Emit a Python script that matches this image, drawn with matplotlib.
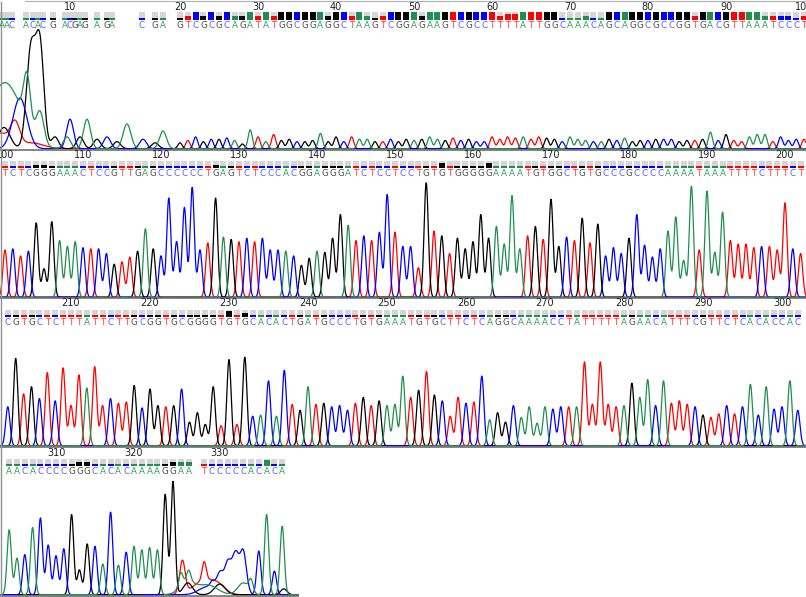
import numpy as np
import matplotlib
matplotlib.use("Agg")
import matplotlib.pyplot as plt
from matplotlib.patches import Rectangle

W, H = 806, 597

trace_col = {"A": "#1f8f4f", "C": "#0000ff", "G": "#000000", "T": "#ff0000"}
text_col = {"A": "#35a064", "C": "#5c5cff", "G": "#4a4a4a", "T": "#ff3a3a"}

# ---- row 1 : bases 1-100 (noisy start) ----
row1_seq = "AACACACGACGAGAGACGA" + "GTCGCGCAGATATGGCGGAGGCTAAGTCGGAGAAGTCGCCTTTTATTGGCAAACAGCAGGCGCCGGTGACGTTAAATCCCT"
row1_num = list(range(1, 101))
row1_early_pos = [-2.86, -2.22, -1.58, 0.26, 1.12, 1.76, 2.40, 3.68, 5.26, 5.9,
                  6.54, 7.18, 7.82, 9.32, 10.6, 11.24, 15.09, 16.79, 17.86]
row1_pos = row1_early_pos + list(range(20, 101))
row1_h = [0] * 19 + [
    .05, .07, .10, .06, .08, .08, .09, .07, .04, .16,
    .10, .06, .12, .07, .08, .06, .06, .07, .13, .06,
    .10, .06, .10, .08, .08, .06, .06, .08, .06, .08,
    .07, .08, .10, .08, .07, .09, .07, .08, .06, .06,
    .10, .08, .10, .09, .10, .08, .10, .09, .08, .06,
    .10, .08, .07, .06, .06, .08, .07, .09, .06, .07,
    .07, .08, .08, .08, .06, .07, .07, .08, .14, .07,
    .12, .07, .06, .10, .12, .12, .06, .10, .07, .08,
    .08]
row1_q = "1111111111111111111" + "1242424224242444444244242124444244444444423344444111211444444444442444444442222" + "12"
# broad signal at the start of the read: (base, position, height, width)
row1_noise = [("A", -2.44, .56, 2.05), ("A", 0.38, .43, .45), ("A", 2.05, .27, .51),
              ("A", 5.51, .10, .45), ("A", 8.08, .25, .45), ("A", 13.2, .21, .5),
              ("A", 17.82, .15, .45),
              ("G", -2.56, .18, .77), ("G", 0.9, .85, .58), ("G", 2.05, .85, .51),
              ("G", 3.97, .10, .45), ("G", 7.18, .10, .45), ("G", 9.36, .08, .45),
              ("G", 11.92, .06, .45), ("G", 16.8, .05, .45),
              ("C", -0.52, .43, .9), ("C", 5.9, .25, .45), ("C", 10.64, .10, .45),
              ("C", 15.26, .08, .45),
              ("T", -3.08, .13, 1.03), ("T", -1.15, .20, .6), ("T", 0.9, .05, 1.54)]

# ---- row 2 : bases 100-202 ----
row2_seq = "TCTCGGGAAACTCCGTTGAGCCCCCCTGAGTCTCCCACGGAGGGATCTCCTCCTGTGTGGGGGAAAATGTGGCTGTGCCCGCCCCAAAATAAATTTTCTTTCT"
row2_num = list(range(100, 203))
row2_pos = list(range(100, 203))
row2_h = [.40, .41, .35, .39, .63, .24, .64, .48, .43, .47,
          .42, .41, .41, .37, .28, .30, .34, .39, .58, .41,
          .35, .84, .47, .76, .93, .40, .46, .84, .51, .49,
          .47, .50, .47, .50, .40, .40, .39, .35, .27, .33,
          .39, .38, .50, .70, .61, .48, .52, .48, .55, .87,
          .55, .43, .43, .25, .97, .56, .52, .37, .50, .41,
          .47, .70, .50, .60, .45, .86, .41, .52, .60, .49,
          .83, .43, .51, .48, .67, .46, .62, .35, .42, .37,
          .50, .70, .44, .34, .41, .56, .68, .31, .94, .40,
          .90, .38, .72, .48, .45, .45, .42, .43, .43, .40,
          .80, .41, .37]
row2_q = "1111221111111111111111111112111111111111111111111111111131111131111111111111111111111111111111111111111"

# ---- row 3 : bases 202-302 ----
row3_seq = "CGTGCTCTTTATTCTTGCGGTGCGGGGTGTGCACACTGATGCCCTGTGAAATGTGCTTCTCAGGCAAAACCTATTTTTAGAACATTTCGTTCTCACACCAC"
row3_num = list(range(202, 303))
row3_pos = list(range(202, 303))
row3_h = [.33, .74, .44, .50, .40, .62, .38, .66, .34, .60,
          .49, .67, .34, .40, .36, .37, .51, .32, .48, .34,
          .33, .34, .48, .20, .28, .18, .50, .17, .73, .18,
          .75, .25, .26, .55, .25, .64, .35, .30, .50, .35,
          .36, .33, .34, .30, .36, .41, .34, .38, .34, .35,
          .59, .41, .47, .63, .43, .38, .25, .41, .36, .37,
          .59, .22, .28, .20, .34, .24, .33, .19, .33, .31,
          .33, .33, .33, .71, .35, .71, .35, .33, .34, .53,
          .41, .56, .34, .55, .36, .38, .35, .33, .26, .24,
          .27, .34, .27, .33, .52, .26, .50, .31, .33, .55,
          .30]
row3_q = "11111111111111111111111111113121111111111111111111111111111111111111111111111111111111111111111111111"

# ---- row 4 : bases 304-338, end of read ----
row4_seq = "AACACCCCGGGCACACAAAAGGAATCCCCCACACA"
row4_num = list(range(304, 339))
row4_pos = list(range(304, 328)) + list(range(329, 340))
row4_h = [.55, .31, .34, .57, .65, .42, .33, .39, .68, .21,
          .43, .41, .26, .70, .25, .36, .41, .38, .40, .38,
          .85, .96, .12, .10,
          .16, .03, .04, .05, .05, .05, .10, .37, .68, .20, .58]
row4_q = "11111111122111111111122211111111311"
row4_noise = [("T", 326.2, .28, .35), ("T", 328.6, .10, 1.2), ("T", 330.6, .09, 1.0),
              ("G", 326.9, .10, .6), ("G", 331.0, .09, .7), ("G", 339.2, .05, .4),
              ("A", 326.9, .10, 1.0), ("A", 329.5, .08, 1.2), ("A", 334.0, .10, .7),
              ("C", 329.2, .06, 1.0), ("C", 331.2, .14, .8), ("C", 332.4, .19, .6),
              ("C", 333.3, .23, .5), ("C", 334.1, .25, .4)]

rows = [
    dict(seq=row1_seq, num=row1_num, pos=row1_pos, h=row1_h, q=row1_q, noise=row1_noise,
         base=149.5, ref=20, ref_px=180, ppb=7.8, end_px=W),
    dict(seq=row2_seq, num=row2_num, pos=row2_pos, h=row2_h, q=row2_q, noise=[],
         base=298.0, ref=110, ref_px=83, ppb=7.8, end_px=W),
    dict(seq=row3_seq, num=row3_num, pos=row3_pos, h=row3_h, q=row3_q, noise=[],
         base=446.5, ref=210, ref_px=71, ppb=7.9, end_px=W),
    dict(seq=row4_seq, num=row4_num, pos=row4_pos, h=row4_h, q=row4_q, noise=row4_noise,
         base=595.5, ref=310, ref_px=56, ppb=7.8, end_px=298),
]

ROW_H = 148.0
TRACE_H = 118.0
SIG = 0.27

fig = plt.figure(figsize=(W / 100, H / 100), dpi=100)
fig.patch.set_facecolor("white")

for r in rows:
    ax = fig.add_axes([0, 1 - r["base"] / H, 1, ROW_H / H])
    u0 = r["ref"] - r["ref_px"] / r["ppb"]
    u1 = u0 + W / r["ppb"]
    ax.set_xlim(u0, u1)
    ax.set_ylim(0, ROW_H)
    ax.axis("off")
    px = 1.0 / r["ppb"]  # one pixel in base units

    # traces
    u_end = u0 + r["end_px"] / r["ppb"]
    uu = np.arange(u0, u_end, 0.03)
    for b in "TGCA":
        y = np.zeros_like(uu)
        for s, p, hh in zip(r["seq"], r["pos"], r["h"]):
            if s == b and hh > 0:
                y += hh * np.exp(-(uu - p) ** 2 / (2 * SIG ** 2))
        for nb, p, hh, w in r["noise"]:
            if nb == b:
                y += hh * np.exp(-(uu - p) ** 2 / (2 * w ** 2))
        ax.plot(uu, y * TRACE_H + 0.8, color=trace_col[b], lw=0.9, clip_on=False)

    # baseline and left border
    ax.plot([u0, u_end], [0, 0], color="#707070", lw=1.2, clip_on=False)
    ax.plot([u0 + 0.5 * px, u0 + 0.5 * px], [0, ROW_H], color="#909090", lw=1.0, clip_on=False)

    # quality bars and letters
    bw = 6 * px
    for i, (s, p, n) in enumerate(zip(r["seq"], r["pos"], r["num"])):
        q = int(r["q"][i]) / 4.0
        ax.add_patch(Rectangle((p - bw / 2, 130), bw, 7, fc="#d6d6d6", ec="none", clip_on=False))
        ax.add_patch(Rectangle((p - bw / 2, 130), bw, 7 * q, fc=trace_col[s], ec="none", clip_on=False))
        ax.text(p, 124, s, color=text_col[s], fontsize=6.3, ha="center", va="center",
                family="DejaVu Sans", clip_on=False)
        if n % 10 == 0:
            ax.text(p, 143, str(n), color="#222222", fontsize=7, ha="center", va="center",
                    family="DejaVu Sans", clip_on=False)

# thin top line
fig.add_artist(plt.Line2D([25 / W, 1], [1 - 1 / H, 1 - 1 / H], color="#b0b0b0", lw=0.8))

fig.savefig("out.png", dpi=100, facecolor="white")
